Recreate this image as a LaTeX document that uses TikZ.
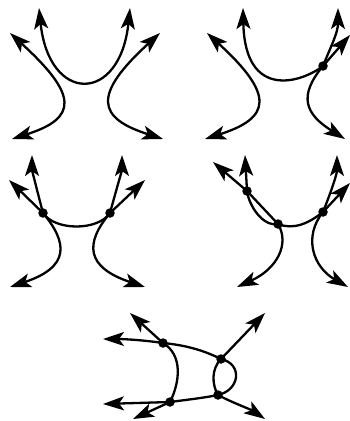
\documentclass[tikz,border=0pt]{standalone}
\usepackage{tikz}
\usetikzlibrary{arrows.meta}
\definecolor{ink}{HTML}{000000}

\tikzset{
  strand/.style={draw=ink, line width=2.3pt},
  head/.style={-{Stealth[length=21pt,width=14pt,inset=5pt]}},
  heads/.style={{Stealth[length=21pt,width=14pt,inset=5pt]}-{Stealth[length=21pt,width=14pt,inset=5pt]}},
  vtx/.style={circle, fill=ink, inner sep=0pt, minimum size=9.5pt}
}

\begin{document}
\begin{tikzpicture}[x=1pt, y=-1pt]
\useasboundingbox (0,0) rectangle (350,421);

% panel 1: no crossings
\coordinate (p1ul) at (39,8);   \coordinate (p1ur) at (130,8);
\coordinate (p1lt) at (10,33);  \coordinate (p1lb) at (12,139);
\coordinate (p1rt) at (160,33); \coordinate (p1rb) at (163,139);
\draw[strand, heads] (p1ul) .. controls +(10,96) and +(-10,96) .. (p1ur);
\draw[strand, heads] (p1lt) .. controls +(68,62) and +(66,-21) .. (p1lb);
\draw[strand, heads] (p1rt) .. controls +(-68,62) and +(-66,-21) .. (p1rb);

% panel 2: one crossing
\node[vtx] (n2) at (323,66) {};
\coordinate (p2ul) at (243,8);  \coordinate (p2ur) at (338,8);
\coordinate (p2lt) at (207,33); \coordinate (p2lb) at (205,139);
\coordinate (p2rt) at (350,35); \coordinate (p2rb) at (345,139);
\draw[strand, heads] (p2lt) .. controls +(68,62) and +(66,-21) .. (p2lb);
\draw[strand, head] (n2.center) .. controls +(-22,17) and +(2,92) .. (p2ul);
\draw[strand, head] (n2.center) .. controls +(8,-20) and +(0,25) .. (p2ur);
\draw[strand, head] (n2.center) -- (p2rt);
\draw[strand, head] (n2.center) .. controls +(-25,30) and +(-40,-25) .. (p2rb);

% panel 3: two crossings
\node[vtx] (l3) at (43,213) {};
\node[vtx] (r3) at (110,213) {};
\draw[strand] (l3.center) .. controls +(12,18) and +(-12,18) .. (r3.center);
\coordinate (p3a) at (32,155);  \coordinate (p3b) at (9,180);
\coordinate (p3c) at (122,155); \coordinate (p3d) at (145,180);
\coordinate (p3e) at (10,287);  \coordinate (p3f) at (145,287);
\draw[strand, head] (l3.center) .. controls +(-4,-15) and +(0,15) .. (p3a);
\draw[strand, head] (l3.center) -- (p3b);
\draw[strand, head] (r3.center) .. controls +(4,-15) and +(0,15) .. (p3c);
\draw[strand, head] (r3.center) -- (p3d);
\draw[strand, head] (l3.center) .. controls +(25,30) and +(60,-20) .. (p3e);
\draw[strand, head] (r3.center) .. controls +(-25,30) and +(-60,-20) .. (p3f);

% panel 4: three crossings
\node[vtx] (a4) at (247,191) {};
\node[vtx] (b4) at (278,224) {};
\node[vtx] (c4) at (323,212) {};
\coordinate (p4a) at (245,155); \coordinate (p4b) at (213,162);
\coordinate (p4c) at (337,155); \coordinate (p4d) at (350,183);
\coordinate (p4e) at (237,287); \coordinate (p4f) at (348,287);
\draw[strand] (a4.center) -- (b4.center);
\draw[strand] (a4.center) .. controls +(2,15) and +(-15,3) .. (b4.center);
\draw[strand] (b4.center) .. controls +(15,6) and +(-15,12) .. (c4.center);
\draw[strand, head] (a4.center) -- (p4a);
\draw[strand, head] (a4.center) -- (p4b);
\draw[strand, head] (c4.center) .. controls +(6,-15) and +(0,20) .. (p4c);
\draw[strand, head] (c4.center) -- (p4d);
\draw[strand, head] (b4.center) .. controls +(12,20) and +(40,-18) .. (p4e);
\draw[strand, head] (c4.center) .. controls +(-20,25) and +(-35,-20) .. (p4f);

% panel 5: four crossings
\node[vtx] (p5) at (163,343) {};
\node[vtx] (q5) at (221,359) {};
\node[vtx] (r5) at (170,402) {};
\node[vtx] (s5) at (218,395) {};
\coordinate (t5a) at (103,339); \coordinate (t5b) at (130,313);
\coordinate (t5c) at (265,313); \coordinate (t5d) at (103,404);
\coordinate (t5e) at (133,419); \coordinate (t5f) at (265,419);
\draw[strand] (p5.center) .. controls +(20,2) and +(-20,-10) .. (q5.center);
\draw[strand] (p5.center) .. controls +(20,12) and +(10,-20) .. (r5.center);
\draw[strand] (r5.center) .. controls +(15,-2) and +(-15,3) .. (s5.center);
\draw[strand] (q5.center) .. controls +(-10,10) and +(-6,-10) .. (s5.center);
\draw[strand] (q5.center) .. controls +(22,5) and +(22,-5) .. (s5.center);
\draw[strand, head] (p5.center) .. controls +(-20,-3) and +(20,0) .. (t5a);
\draw[strand, head] (p5.center) -- (t5b);
\draw[strand, head] (q5.center) -- (t5c);
\draw[strand, head] (r5.center) -- (t5d);
\draw[strand, head] (r5.center) -- (t5e);
\draw[strand, head] (s5.center) .. controls +(15,8) and +(-15,-10) .. (t5f);
\end{tikzpicture}
\end{document}
